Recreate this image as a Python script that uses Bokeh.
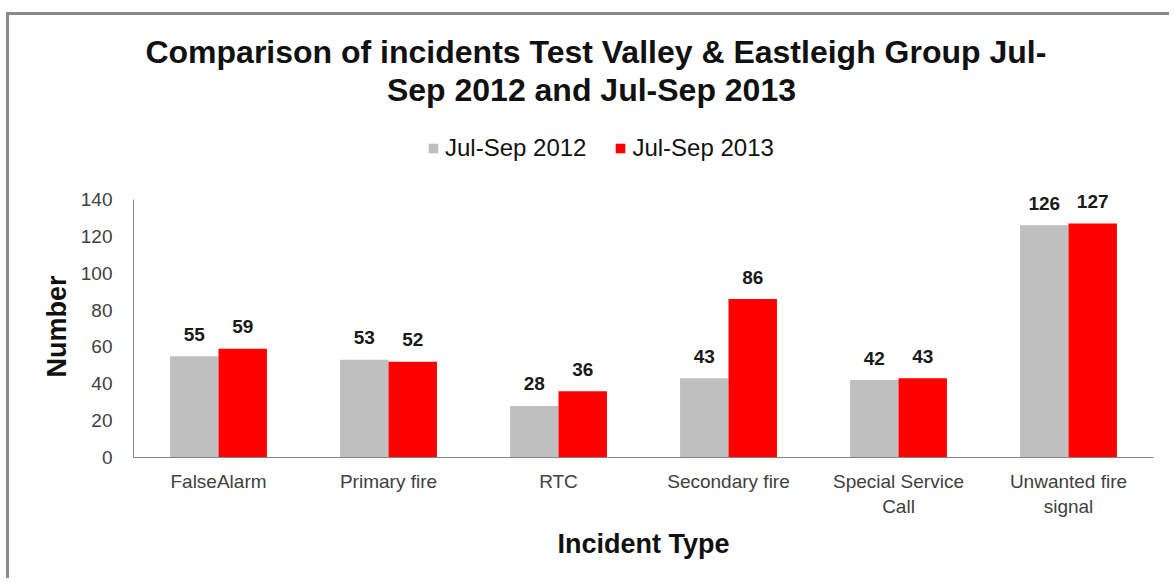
from bokeh.plotting import figure
from bokeh.models import ColumnDataSource, FactorRange, Range1d, Label, FixedTicker, Title
from bokeh.transform import dodge
from bokeh.core.properties import value
from bokeh.embed import file_html
from bokeh.resources import INLINE

categories = ["FalseAlarm", "Primary fire", "RTC", "Secondary fire",
              "Special Service\nCall", "Unwanted fire\nsignal"]
series_names = ["Jul-Sep 2012", "Jul-Sep 2013"]
values_2012 = [55, 53, 28, 43, 42, 126]
values_2013 = [59, 52, 36, 86, 43, 127]
y_ticks = [0, 20, 40, 60, 80, 100, 120, 140]

FONT = "Liberation Sans"
GRAY = "#BFBFBF"
RED = "#FF0000"

src = ColumnDataSource(dict(
    cat=categories,
    v12=values_2012, v13=values_2013,
    t12=[str(v) for v in values_2012], t13=[str(v) for v in values_2013],
))

W, H = 1163, 566
BOTTOM = 124
scale = 258 / 140.0
ymax = (H - BOTTOM) / scale
p = figure(x_range=FactorRange(*categories, range_padding=0), y_range=Range1d(0, ymax),
           width=W, height=H, output_backend="svg", toolbar_location=None,
           min_border_left=124, min_border_right=19, min_border_top=0, min_border_bottom=BOTTOM)
p.styles = {"border-top": "3px solid #8a8a8a", "border-left": "3px solid #8a8a8a",
            "margin-top": "12px", "margin-left": "6px"}
p.outline_line_color = None
p.grid.visible = False

bw = 0.285
p.vbar(x=dodge("cat", -bw / 2, range=p.x_range), top="v12", width=bw, source=src,
       color=GRAY, line_color=None, legend_label=series_names[0])
p.vbar(x=dodge("cat", bw / 2, range=p.x_range), top="v13", width=bw, source=src,
       color=RED, line_color=None, legend_label=series_names[1])

p.text(x=dodge("cat", -bw / 2, range=p.x_range), y="v12", text="t12", source=src,
       text_align="center", text_baseline="middle", y_offset=-22,
       text_font=value(FONT), text_font_style="bold", text_font_size="19px", text_color="#1a1a1a")
p.text(x=dodge("cat", bw / 2, range=p.x_range), y="v13", text="t13", source=src,
       text_align="center", text_baseline="middle", y_offset=-22,
       text_font=value(FONT), text_font_style="bold", text_font_size="19px", text_color="#1a1a1a")

# axes
p.yaxis.ticker = FixedTicker(ticks=y_ticks)
p.yaxis.bounds = (0, 140)
for ax in (p.xaxis[0], p.yaxis[0]):
    ax.axis_line_color = "#868686"
    ax.major_tick_line_color = None
    ax.minor_tick_line_color = None
    ax.major_tick_in = 0
    ax.major_tick_out = 0
    ax.major_label_text_font = FONT
    ax.major_label_text_font_size = "19px"
    ax.major_label_text_color = "#404040"
    ax.axis_label_text_font = FONT
    ax.axis_label_text_font_style = "bold"
    ax.axis_label_text_font_size = "27px"
    ax.axis_label_text_color = "#111111"
p.yaxis.major_label_standoff = 21
p.xaxis.major_label_standoff = 13
p.xaxis.axis_label = "Incident Type"
p.xaxis.axis_label_standoff = 9

# y axis title, placed along the 0-140 part of the axis
p.add_layout(Title(text="Number", align="left", offset=80, standoff=12,
                   text_font=FONT, text_font_style="bold", text_font_size="27px",
                   text_color="#111111"), "left")

# legend
lg = p.legend[0]
lg.orientation = "horizontal"
lg.location = (294, 295)
lg.background_fill_alpha = 0
lg.border_line_color = None
lg.padding = 0
lg.margin = 0
lg.spacing = 28
lg.glyph_width = 12
lg.glyph_height = 12
lg.label_standoff = 6
lg.label_text_font = FONT
lg.label_text_font_size = "24px"
lg.label_text_color = "#111111"

# title (two lines)
title_lines = ["Comparison of incidents Test Valley & Eastleigh Group Jul-",
               "Sep 2012 and Jul-Sep  2013"]
title_y = [219.8, 199.2]
for t, ty in zip(title_lines, title_y):
    p.add_layout(Label(x=2.72, y=ty, text=t, text_align="center", text_baseline="middle",
                       text_font=FONT, text_font_style="bold", text_font_size="32px",
                       text_color="#111111"))

open("out.html", "w").write(file_html(p, INLINE))
